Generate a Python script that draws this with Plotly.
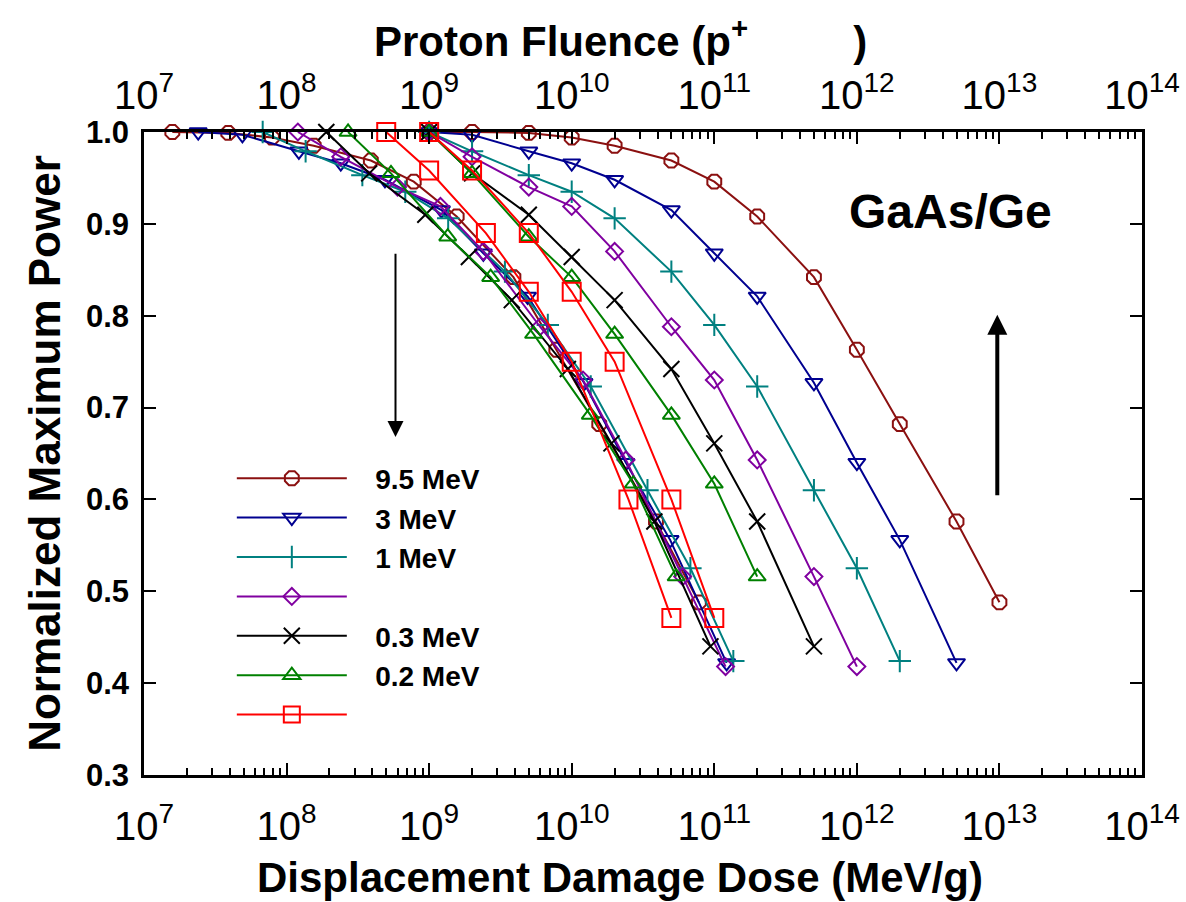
import plotly.graph_objects as go

# ---- data ----
# Proton fluence (top axis) and normalized maximum power for each energy
fl_95 = [1e9, 2e9, 5e9, 1e10, 2e10, 5e10, 1e11, 2e11, 5e11, 1e12, 2e12, 5e12, 1e13]
pm_95 = [1.0, 1.0, 0.999, 0.994, 0.985, 0.969, 0.946, 0.908, 0.842, 0.763, 0.682, 0.576, 0.488]
dd_95 = [1.58e7, 3.9e7, 7.9e7, 1.55e8, 3.9e8, 7.8e8, 1.56e9, 3.9e9, 7.8e9, 1.56e10, 3.9e10, 7.8e10]

fl_3 = [1e9, 2e9, 5e9, 1e10, 2e10, 5e10, 1e11, 2e11, 5e11, 1e12, 2e12, 5e12]
pm_3 = [1.0, 0.997, 0.979, 0.966, 0.948, 0.915, 0.868, 0.821, 0.727, 0.640, 0.556, 0.422]
dd_3 = [2.4e7, 4.9e7, 1.22e8, 2.4e8, 4.9e8, 1.22e9, 2.4e9, 4.9e9, 1.22e10, 2.4e10, 4.9e10, 1.22e11]

fl_1 = [1e9, 2e9, 5e9, 1e10, 2e10, 5e10, 1e11, 2e11, 5e11, 1e12, 2e12]
pm_1 = [1.0, 0.979, 0.953, 0.935, 0.906, 0.848, 0.790, 0.723, 0.610, 0.525, 0.424]
dd_1 = [6.8e7, 1.36e8, 3.4e8, 6.8e8, 1.36e9, 3.4e9, 6.8e9, 1.36e10, 3.4e10, 6.8e10, 1.36e11]

fl_p = [1e9, 2e9, 5e9, 1e10, 2e10, 5e10, 1e11, 2e11, 5e11, 1e12]
pm_p = [1.0, 0.973, 0.940, 0.919, 0.870, 0.788, 0.730, 0.643, 0.516, 0.418]
dd_p = [1.2e8, 2.4e8, 6.0e8, 1.2e9, 2.4e9, 6.0e9, 1.2e10, 2.4e10, 6.0e10, 1.2e11]

fl_03 = [1e9, 2e9, 5e9, 1e10, 2e10, 5e10, 1e11, 2e11, 5e11]
pm_03 = [1.0, 0.955, 0.910, 0.864, 0.817, 0.742, 0.661, 0.576, 0.440]
dd_03 = [1.9e8, 3.8e8, 9.4e8, 1.9e9, 3.8e9, 9.4e9, 1.9e10, 3.8e10, 9.4e10]

fl_02 = [1e9, 2e9, 5e9, 1e10, 2e10, 5e10, 1e11, 2e11]
pm_02 = [1.0, 0.955, 0.886, 0.842, 0.780, 0.692, 0.617, 0.516]
dd_02 = [2.7e8, 5.4e8, 1.35e9, 2.7e9, 5.4e9, 1.35e10, 2.7e10, 5.4e10]

fl_r = [1e9, 2e9, 5e9, 1e10, 2e10, 5e10, 1e11]
pm_r = [1.0, 0.958, 0.890, 0.826, 0.750, 0.600, 0.471]
dd_r = [5e8, 1e9, 2.5e9, 5e9, 1e10, 2.5e10, 5e10]

labels = ["9.5 MeV", "3 MeV", "1 MeV", "", "0.3 MeV", "0.2 MeV", ""]

series = [
    (fl_95, pm_95, dd_95, pm_95[1:], "#8B1010", "octagon-open", 15),
    (fl_3, pm_3, dd_3, pm_3, "#000090", "triangle-down-open", 15),
    (fl_1, pm_1, dd_1, pm_1, "#008080", "cross-thin-open", 16),
    (fl_p, pm_p, dd_p, pm_p, "#8000A0", "diamond-open", 13),
    (fl_03, pm_03, dd_03, pm_03, "#000000", "x-thin-open", 16),
    (fl_02, pm_02, dd_02, pm_02, "#008000", "triangle-up-open", 15),
    (fl_r, pm_r, dd_r, pm_r, "#FF0000", "square-open", 18),
]

FONT = "Liberation Sans, Arial, sans-serif"
PAD = "\u00a0" * 3

fig = go.Figure()
for lab, (fl, pm, dd, pmd, col, sym, sz) in zip(labels, series):
    mk = dict(symbol=sym, size=sz, color=col, line=dict(color=col, width=2))
    fig.add_trace(go.Scatter(x=fl, y=pm, xaxis="x2", yaxis="y", mode="lines+markers",
                             name=PAD + lab, legendgroup=lab + col, line=dict(color=col, width=2),
                             marker=mk, cliponaxis=False))
    fig.add_trace(go.Scatter(x=dd, y=pmd, xaxis="x", yaxis="y", mode="lines+markers",
                             name=PAD + lab, legendgroup=lab + col, showlegend=False,
                             line=dict(color=col, width=2), marker=mk, cliponaxis=False))

xtickfont = dict(family=FONT, size=32, color="black")
ytickfont = dict(family=FONT, size=31, color="black", weight="bold")
xcommon = dict(type="log", range=[7, 14], dtick=1, exponentformat="power", showexponent="all",
               ticks="inside", ticklen=12, tickwidth=2, tickcolor="black", automargin=False,
               showline=True, linecolor="black", linewidth=2.5, showgrid=False, zeroline=False,
               tickfont=xtickfont,
               minor=dict(ticks="inside", ticklen=7, tickwidth=1.5, tickcolor="black", showgrid=False))

fig.update_layout(
    width=1186, height=902,
    margin=dict(l=144, r=44, t=132, b=127),
    paper_bgcolor="white", plot_bgcolor="white",
    font=dict(family=FONT, color="black"),
    xaxis=dict(**xcommon, side="bottom", anchor="y", ticklabelstandoff=16),
    xaxis2=dict(**xcommon, side="top", overlaying="x", anchor="y", ticklabelstandoff=6),
    yaxis=dict(range=[0.3, 1.0], dtick=0.1, tickformat=".1f", ticks="inside", ticklen=12,
               tickwidth=2, tickcolor="black", showline=True, linecolor="black", linewidth=2.5,
               mirror="ticks", showgrid=False, zeroline=False, tickfont=ytickfont,
               ticklabelstandoff=6, automargin=False,
               title=dict(text="Normalized Maximum Power", standoff=12,
                          font=dict(family=FONT, size=44, color="black", weight="bold"))),
    legend=dict(x=0.088, y=0.50, xanchor="left", yanchor="top", bgcolor="rgba(0,0,0,0)",
                font=dict(family=FONT, size=28, color="black", weight="bold"),
                itemwidth=110, tracegroupgap=0, traceorder="normal"),
    showlegend=True,
    annotations=[
        dict(text="Proton Fluence (p<sup>+</sup>" + "\u00a0" * 9 + ")", xref="paper", yref="paper",
             x=0.477, y=1.146, xanchor="center", yanchor="middle", showarrow=False,
             font=dict(family=FONT, size=42, color="black", weight="bold")),
        dict(text="Displacement Damage Dose (MeV/g)", xref="paper", yref="paper",
             x=0.477, y=-0.160, xanchor="center", yanchor="middle", showarrow=False,
             font=dict(family=FONT, size=42, color="black", weight="bold")),
        dict(text="GaAs/Ge", xref="x", yref="y", x=12.656, y=0.913, showarrow=False,
             xanchor="center", yanchor="middle",
             font=dict(family=FONT, size=48, color="black", weight="bold")),
        dict(text="", xref="x", yref="y", x=8.764, y=0.668, axref="x", ayref="y",
             ax=8.764, ay=0.869, showarrow=True, arrowhead=2, arrowsize=1.6, arrowwidth=2,
             arrowcolor="black"),
        dict(text="", xref="x", yref="y", x=12.985, y=0.801, axref="x", ayref="y",
             ax=12.985, ay=0.603, showarrow=True, arrowhead=2, arrowsize=1.0, arrowwidth=4,
             arrowcolor="black"),
    ],
)

fig.write_html("out.html")
